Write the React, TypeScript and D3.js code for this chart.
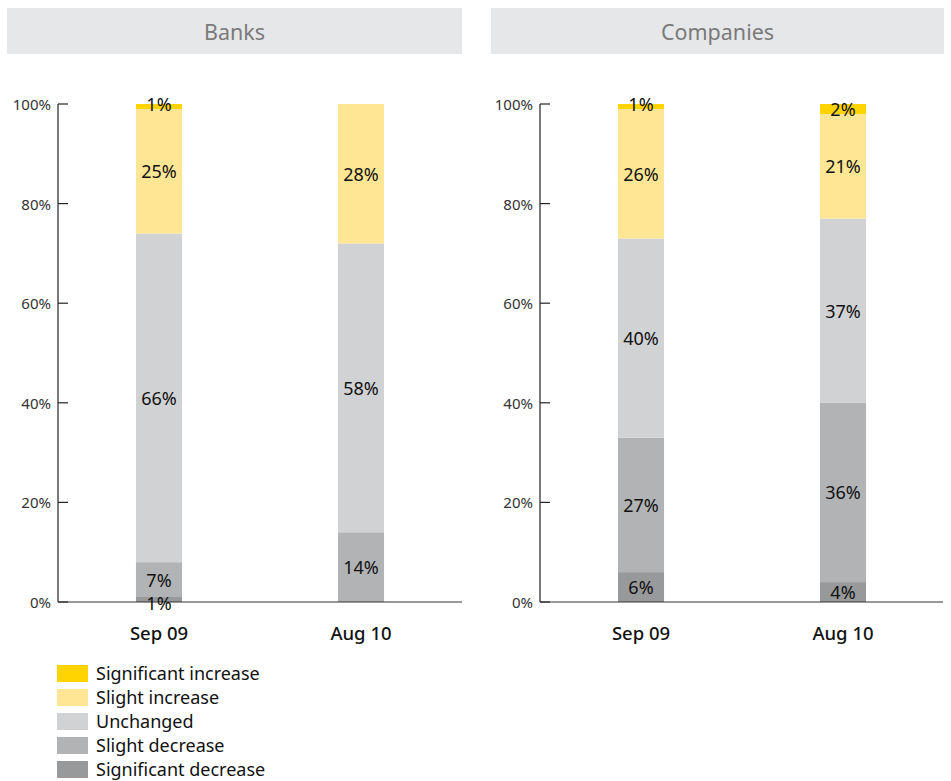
import React from "react";
import * as d3 from "d3";

const categories = ["Sep 09", "Aug 10"];
const seriesNames = ["Significant decrease", "Slight decrease", "Unchanged", "Slight increase", "Significant increase"];
const seriesColors = ["#98999b", "#b1b3b5", "#d1d2d4", "#ffe695", "#ffd400"];
const legendOrder = ["Significant increase", "Slight increase", "Unchanged", "Slight decrease", "Significant decrease"];

// values per category, in series order (bottom to top)
const banksSep09 = [1, 7, 66, 25, 1];
const banksAug10 = [0, 14, 58, 28, 0];
const companiesSep09 = [6, 27, 40, 26, 1];
const companiesAug10 = [4, 36, 37, 21, 2];

const yTicks = [0, 20, 40, 60, 80, 100];

const panels = [
  { title: "Banks", values: [banksSep09, banksAug10], x0: 7, x1: 462, axisX: 58, plotRight: 462 },
  { title: "Companies", values: [companiesSep09, companiesAug10], x0: 491, x1: 944, axisX: 540, plotRight: 943 },
];

const FONT = "'Noto Sans', 'DejaVu Sans', sans-serif";

function Panel({ p }: { p: typeof panels[number] }) {
  const y = d3.scaleLinear().domain([0, 100]).range([602, 104]);
  const x = d3
    .scaleBand<string>()
    .domain(categories)
    .range([p.axisX, p.axisX + 404])
    .paddingInner(0.772)
    .paddingOuter(0.386);
  const stack = d3
    .stack<number[]>()
    .keys(seriesNames.map((_, i) => String(i)))
    .value((d, k) => d[+k]);
  const series = stack(p.values as any);
  return (
    <g>
      <rect x={p.x0} y={8} width={p.x1 - p.x0} height={46} fill="#e6e7e8" />
      <text x={(p.x0 + p.x1) / 2} y={31} textAnchor="middle" dominantBaseline="central" fontSize={21.5} fill="#7a7a7a" fontFamily={FONT}>
        {p.title}
      </text>
      {series.map((s, si) => (
        <g key={si}>
          {s.map((d, ci) => {
            const v = p.values[ci][si];
            if (!v) return null;
            return (
              <rect
                key={ci}
                x={x(categories[ci])}
                width={x.bandwidth()}
                y={y(d[1])}
                height={y(d[0]) - y(d[1])}
                fill={seriesColors[si]}
              />
            );
          })}
        </g>
      ))}
      {/* axis */}
      <line x1={p.axisX} x2={p.axisX} y1={y(100)} y2={y(0)} stroke="#222" strokeWidth={1.2} />
      {yTicks.map((t) => (
        <g key={t}>
          <line x1={p.axisX} x2={p.axisX + 10} y1={y(t)} y2={y(t)} stroke="#222" strokeWidth={1.2} />
          <text x={p.axisX - 7} y={y(t)} textAnchor="end" dominantBaseline="central" fontSize={15} fill="#333" fontFamily={FONT}>
            {t}%
          </text>
        </g>
      ))}
      <line x1={p.axisX} x2={p.plotRight} y1={y(0)} y2={y(0)} stroke="#333" strokeWidth={1.2} />
      {series.map((s, si) =>
        s.map((d, ci) => {
          const v = p.values[ci][si];
          if (!v) return null;
          let cy = (y(d[0]) + y(d[1])) / 2;
          if (v <= 1) cy = si === 0 ? cy + 3 : cy - 2;
          return (
            <text
              key={si + "-" + ci}
              x={(x(categories[ci]) as number) + x.bandwidth() / 2}
              y={cy}
              textAnchor="middle"
              dominantBaseline="central"
              fontSize={18}
              fill="#111"
              fontFamily={FONT}
            >
              {v}%
            </text>
          );
        })
      )}
      {categories.map((c) => (
        <text
          key={c}
          x={(x(c) as number) + x.bandwidth() / 2}
          y={632}
          textAnchor="middle"
          dominantBaseline="central"
          fontSize={18.5}
          fontWeight={500}
          fill="#111"
          fontFamily={FONT}
        >
          {c}
        </text>
      ))}
    </g>
  );
}

export default function App() {
  return (
    <svg width={951} height={781} style={{ position: "absolute", left: 0, top: 0 }}>
      <rect width={951} height={781} fill="#fff" />
      {panels.map((p) => (
        <Panel key={p.title} p={p} />
      ))}
      {legendOrder.map((name, i) => {
        const si = seriesNames.indexOf(name);
        return (
          <g key={name} transform={`translate(57, ${665 + i * 24})`}>
            <rect width={31} height={17} fill={seriesColors[si]} />
            <text x={39} y={8} dominantBaseline="central" fontSize={18} fill="#111" fontFamily={FONT}>
              {name}
            </text>
          </g>
        );
      })}
    </svg>
  );
}
